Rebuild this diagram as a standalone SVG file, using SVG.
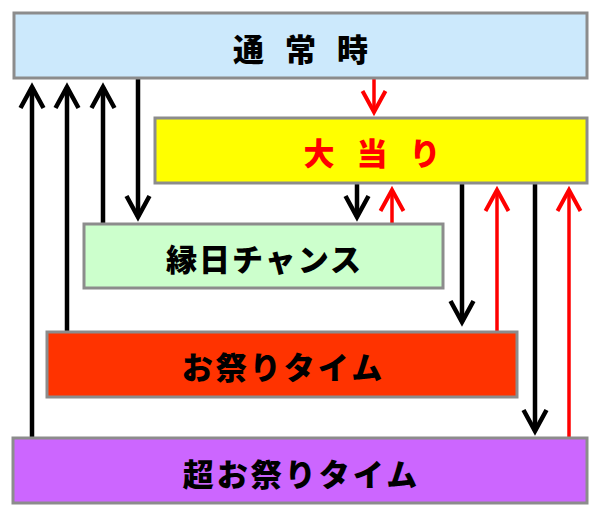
<svg xmlns="http://www.w3.org/2000/svg" width="600" height="518" viewBox="0 0 600 518">
<style>
.box{stroke:#8c8c8c;stroke-width:3}
.t{font-family:"Noto Sans CJK JP","Noto Sans",sans-serif;font-weight:900;font-size:31px;text-anchor:middle;dominant-baseline:central;fill:#000}
.k{stroke:#000;stroke-width:4.5;fill:none}
.r{stroke:#ff0000;stroke-width:3.5;fill:none}
</style>
<defs>
<marker id="ak" markerUnits="userSpaceOnUse" refX="0" refY="0" markerWidth="30" markerHeight="30" orient="auto" overflow="visible">
<path d="M-21,-11.5 L0,0 L-21,11.5" fill="none" stroke="#000" stroke-width="4.5" stroke-linejoin="miter"/>
</marker>
<marker id="ar" markerUnits="userSpaceOnUse" refX="0" refY="0" markerWidth="30" markerHeight="30" orient="auto" overflow="visible">
<path d="M-21,-11.5 L0,0 L-21,11.5" fill="none" stroke="#ff0000" stroke-width="4" stroke-linejoin="miter"/>
</marker>
</defs>
<rect width="600" height="518" fill="#fff"/>
<g id="connectors">
<line class="k" x1="32" y1="438" x2="32" y2="87" marker-end="url(#ak)"/>
<line class="k" x1="67" y1="332" x2="67" y2="87" marker-end="url(#ak)"/>
<line class="k" x1="103" y1="224" x2="103" y2="87" marker-end="url(#ak)"/>
<line class="k" x1="138" y1="78" x2="138" y2="217" marker-end="url(#ak)"/>
<line class="r" x1="374" y1="79" x2="374" y2="112" marker-end="url(#ar)"/>
<line class="k" x1="357" y1="183" x2="357" y2="217" marker-end="url(#ak)"/>
<line class="r" x1="392" y1="224" x2="392" y2="190" marker-end="url(#ar)"/>
<line class="k" x1="462" y1="183" x2="462" y2="322" marker-end="url(#ak)"/>
<line class="r" x1="497" y1="332" x2="497" y2="190" marker-end="url(#ar)"/>
<line class="k" x1="535" y1="183" x2="535" y2="431" marker-end="url(#ak)"/>
<line class="r" x1="569" y1="438" x2="569" y2="190" marker-end="url(#ar)"/>
</g>
<g id="tsujo">
<rect class="box" x="14" y="13" width="573" height="65" fill="#cce9fc"/>
<text class="t" x="300.5" y="47" letter-spacing="21" dx="10.5">通常時</text>
</g>
<g id="oatari">
<rect class="box" x="155" y="118" width="432" height="65" fill="#ffff00"/>
<text class="t" x="372" y="151" letter-spacing="22" dx="11" style="fill:#ff0000">大当り</text>
</g>
<g id="ennichi">
<rect class="box" x="84" y="224" width="359" height="64" fill="#ccffcc"/>
<text class="t" x="263.5" y="257" letter-spacing="2" dx="1">縁日チャンス</text>
</g>
<g id="omatsuri">
<rect class="box" x="47" y="332" width="470" height="65" fill="#ff3300"/>
<text class="t" x="282" y="365" letter-spacing="3" dx="1.5">お祭りタイム</text>
</g>
<g id="chou">
<rect class="box" x="13" y="438" width="574" height="65" fill="#cc66ff"/>
<text class="t" x="300" y="472" letter-spacing="3" dx="1.5">超お祭りタイム</text>
</g>
</svg>
